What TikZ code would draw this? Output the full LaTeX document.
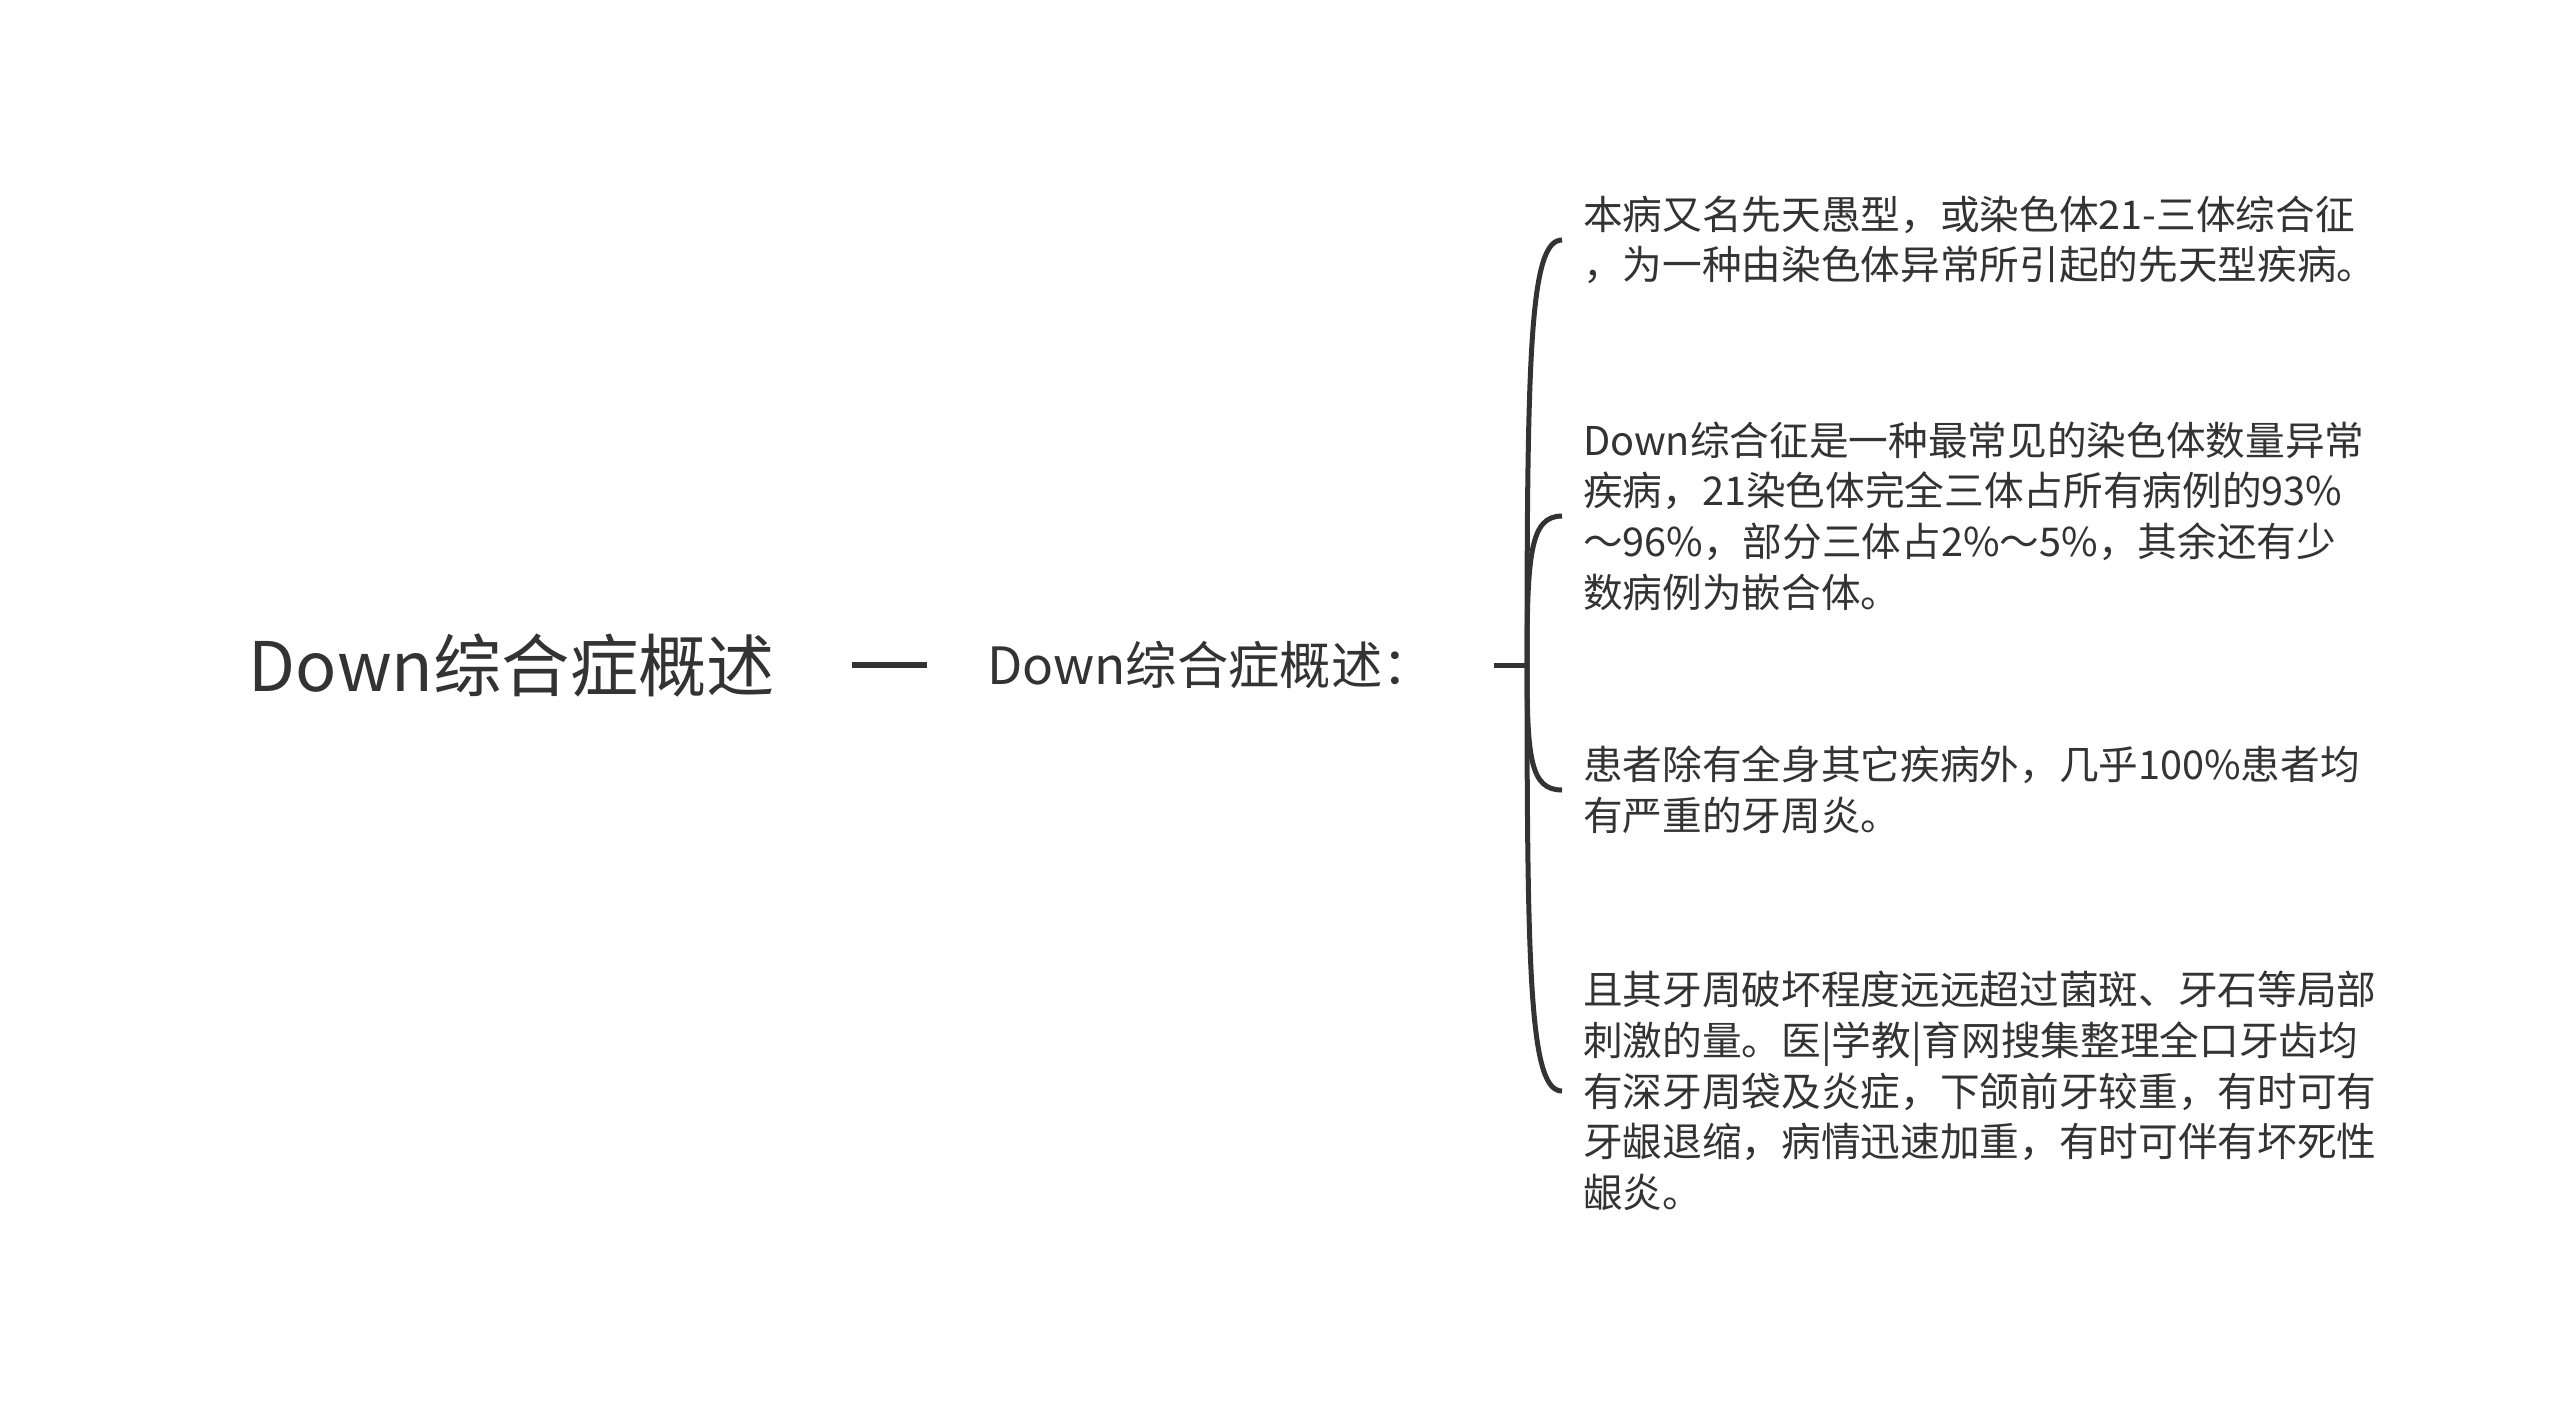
\documentclass[tikz,border=0pt]{standalone}
\usepackage{fontspec}
\setmainfont{Noto Sans CJK SC}
\usepackage{tikz, xcolor}
\usetikzlibrary{calc}

\definecolor{inkgray}{HTML}{333333}

\begin{document}
\begin{tikzpicture}[
  x=0.3pt, y=-0.3pt,
  topic/.style={
    % The font:
    font=\fontsize{20.5}{24}\selectfont,
    text=inkgray,
    % no padding, the gap to the dash comes from outer sep
    inner sep=0pt,
    outer xsep=23pt
  },
  subtopic/.style={
    font=\fontsize{15.4}{18}\selectfont,
    text=inkgray,
    inner sep=0pt,
    outer xsep=18pt
  },
  leaf/.style={
    % The font:
    font=\fontsize{11.9}{15.2}\selectfont,
    text=inkgray,
    % Lines broken by hand, left aligned
    align=left,
    anchor=west,
    % padding around node, so the brace stops short of the text
    inner sep=0pt,
    outer xsep=6.3pt
  },
  link/.style={
    draw=inkgray,
    line width=1.6pt
  },
  brace/.style={
    draw=inkgray,
    line width=1.5pt
  },
  ]

  % page and margins
  \fill [white] (0,0) rectangle (2560,1407);
  \useasboundingbox (0,0) rectangle (2560,1407);

  % main topic and its one child
  \node (root) [topic] at (512, 665) {Down综合症概述};
  \node (mid) [subtopic, anchor=west] at (927, 665) {Down综合症概述：};
  \coordinate (hub) at (1527, 665);

  % the four notes
  \node (l1) [leaf] at (1562, 240) {本病又名先天愚型，或染色体21-三体综合征\\，为一种由染色体异常所引起的先天型疾病。};
  \node (l2) [leaf] at (1562, 516) {Down综合征是一种最常见的染色体数量异常\\疾病，21染色体完全三体占所有病例的93\%\\～96\%，部分三体占2\%～5\%，其余还有少\\数病例为嵌合体。};
  \node (l3) [leaf] at (1562, 790) {患者除有全身其它疾病外，几乎100\%患者均\\有严重的牙周炎。};
  \node (l4) [leaf] at (1562, 1091) {且其牙周破坏程度远远超过菌斑、牙石等局部\\刺激的量。医|学教|育网搜集整理全口牙齿均\\有深牙周袋及炎症，下颌前牙较重，有时可有\\牙龈退缩，病情迅速加重，有时可伴有坏死性\\龈炎。};

  \draw [link] (root) -- (mid);
  \draw [brace] (mid) -- (hub);

  % Loop to draw the brace, one curve per note
  \foreach \n in {1,...,4}
    \draw [brace] (hub) .. controls ($(hub)!0.75!(hub |- l\n.west)$) and ($(l\n.west)!0.9!(hub |- l\n.west)$) .. (l\n.west);

\end{tikzpicture}
\end{document}
